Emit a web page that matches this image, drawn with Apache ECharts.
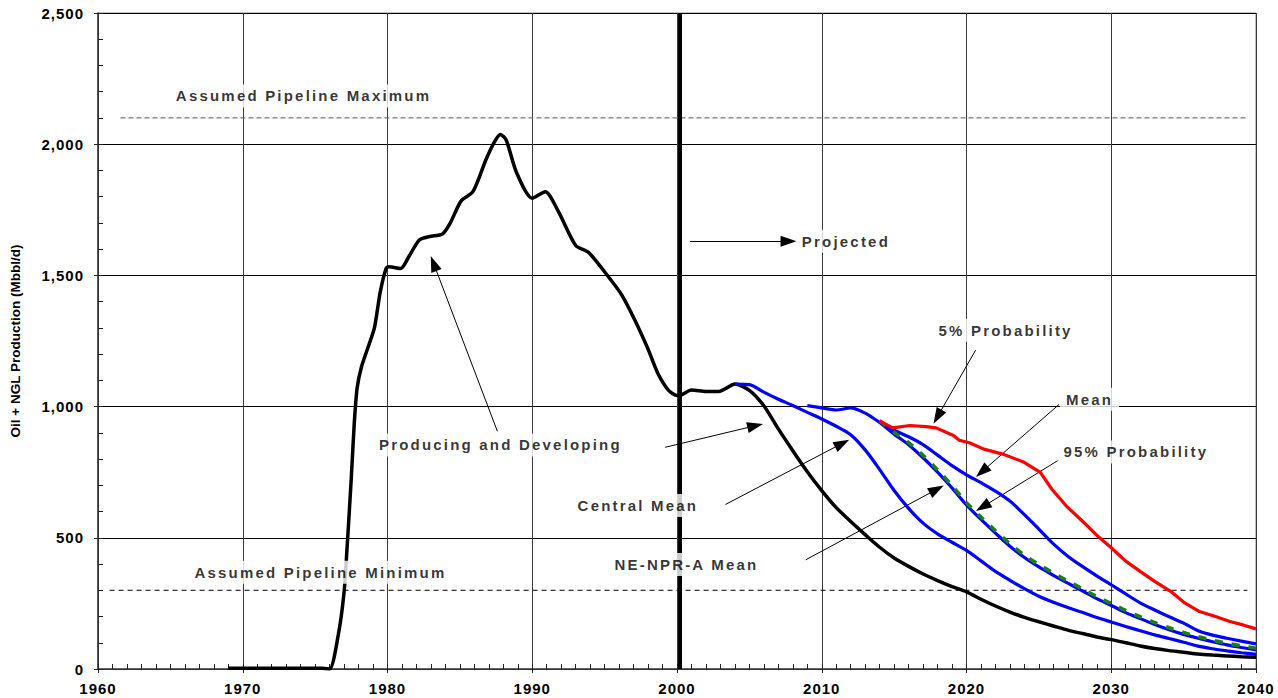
<!DOCTYPE html>
<html><head><meta charset="utf-8">
<script src="https://cdn.jsdelivr.net/npm/echarts@6/dist/echarts.min.js"></script>
<style>
html,body{margin:0;padding:0;background:#fff;}
#chart{width:1278px;height:698px;}
#chart text[style*="annot"]{letter-spacing:2.2px;}
#chart text[style*="axlab"]{letter-spacing:1px;}
</style></head><body><div id="chart"></div>
<script>
// ---------------- data ----------------
const producingYears = [1969,1975.5,1976.0,1976.6,1977.0,1977.2,1977.5,1977.7,1977.9,1978.2,1978.7,1979.1,1979.5,1979.9,1980.1,1980.9,1981.5,1982.2,1982.9,1983.8,1984.3,1985.1,1985.9,1986.8,1987.4,1987.8,1988.2,1988.9,1990.0,1990.9,1991.8,1993.0,1993.9,1995.3,1996.2,1997.1,1998.0,1998.7,1999.4,2000.0,2000.35,2001.0,2002.0,2002.9,2003.3,2004.0,2005,2006,2007,2008,2009,2010,2011,2012,2013,2014,2015,2016,2017,2018,2019,2020,2021,2022,2023,2024,2025,2026,2027,2028,2029,2030,2031,2032,2033,2034,2035,2036,2037,2038,2039,2040];
const producingValues = [3,3,0,130,293,456,729,933,1070,1151,1233,1301,1437,1526,1533,1526,1574,1635,1648,1658,1696,1785,1819,1941,2010,2037,2016,1894,1794,1819,1744,1614,1587,1492,1424,1328,1219,1124,1063,1042,1046,1063,1058,1058,1067,1086,1062,1003,915,832,752,680,615,562,512,464,423,391,362,337,314,294,266,240,217,197,180,164,148,135,122,112,100,88,78,70,64,57,53,50,47,45];

const centralMeanYears = [2004,2005,2006,2007,2008,2009,2010,2011,2012,2013,2014,2015,2016,2017,2018,2019,2020,2021,2022,2023,2024,2025,2026,2027,2028,2029,2030,2031,2032,2033,2034,2035,2036,2037,2038,2039,2040];
const centralMeanValues = [1086,1084,1055,1028,1004,978,953,925,893,835,760,680,612,556,515,483,452,412,372,338,306,277,254,234,216,196,179,162,146,130,116,102,87,77,69,62,56];

const meanYears = [2009,2010,2011,2012,2013,2014,2015,2016,2017,2018,2019,2020,2021,2022,2023,2024,2025,2026,2027,2028,2029,2030,2031,2032,2033,2034,2035,2036,2037,2038,2039,2040];
const meanValues = [1004,995,987,995,975,940,910,885,855,815,775,740,710,678,640,588,533,477,430,391,355,321,286,252,225,199,175,146,129,117,106,96];

const p95Years = [2014,2015,2016,2017,2018,2019,2020,2021,2022,2023,2024,2025,2026,2027,2028,2029,2030,2031,2032,2033,2034,2035,2036,2037,2038,2039,2040];
const p95Values = [940,895,855,805,750,690,625,570,518,468,425,389,357,327,298,268,242,215,192,170,150,132,117,104,92,82,73];

const neNprYears = [2014,2015,2016,2017,2018,2019,2020,2021,2022,2023,2024,2025,2026,2027,2028,2029,2030,2031,2032,2033,2034,2035,2036,2037,2038,2039,2040];
const neNprValues = [946,902,863,814,759,699,634,579,527,477,434,398,366,335,306,276,250,223,199,177,157,139,123,110,98,88,79];

const p5Years = [2014.0,2014.9,2016.1,2017.2,2017.9,2019.1,2019.5,2020.2,2021.2,2022.5,2023.9,2025.1,2025.9,2026.9,2028.0,2029.0,2030.0,2031.0,2032.0,2033.0,2034.1,2035.1,2036.1,2037.2,2038.2,2039.1,2040.0];
const p5Values = [945,919,928,924,919,890,872,862,838,819,790,749,685,621,564,510,462,411,372,334,296,251,219,200,181,168,153];

const pipelineMaxValue = 2100;
const pipelineMaxYears = [1961.55, 2039.4];
const pipelineMinValue = 300;
const pipelineMinYears = [1960.8, 2039.4];
const projectionStartYear = 2000.2;

const xTicks = {min:1960, max:2040, step:10};
const yTicks = {min:0, max:2500, step:500};

// annotation texts and their anchor points (data coords)
const annotationTexts = ['Assumed Pipeline Maximum','Assumed Pipeline Minimum','Producing and Developing','Projected','5% Probability','Mean','95% Probability','Central Mean','NE-NPR-A Mean'];
const annotationAt = [[1974.2,2184],[1975.37,369],[1987.8,854],[2011.67,1630],[2022.7,1291],[2028.5,1028],[2031.7,827],[1997.3,623],[2000.65,398]];
// arrows: [tail, tip] in data coords
const arrowLines = [
  [[1987.59,906],[1982.99,1574]],
  [[1999.19,845],[2005.94,934]],
  [[2003.35,627],[2011.9,874]],
  [[2008.89,416],[2018.43,699]],
  [[2020.63,1215],[2017.72,935]],
  [[2026.39,1008],[2020.65,732]],
  [[2026.39,797],[2020.65,602]],
  [[2000.9,1630],[2008.26,1630]]
];

// ---------------- chart ----------------
const zip = (xs, ys) => xs.map((x,i)=>[x, ys[i]]);
const AXFONT = "'Liberation Sans', axlab";
const ANFONT = "'Liberation Sans', annot";

const chart = echarts.init(document.getElementById('chart'), null, {renderer:'svg'});

function axisX(main){
  return {
    type:'value', min:xTicks.min, max:xTicks.max, interval:xTicks.step, position:'bottom', gridIndex:0,
    axisLine:{show:main, onZero:false, lineStyle:{color:'#444', width:1.5}},
    axisTick:{show:true, inside:main, length:main?5:4, lineStyle:{color:'#222', width:1}},
    minorTick:{show:main, splitNumber:10, length:5, lineStyle:{color:'#222', width:1}},
    splitLine:{show:main, lineStyle:{color:'#3a3a3a', width:1}},
    axisLabel:{show:main, color:'#000', fontSize:15, fontWeight:'bold', fontFamily:AXFONT, margin:12,
      formatter:v=>String(v)},
    silent:true
  };
}
function axisY(main){
  return {
    type:'value', min:yTicks.min, max:yTicks.max, interval:yTicks.step, position:'left', gridIndex:0,
    axisLine:{show:main, onZero:false, lineStyle:{color:'#333', width:1.5}},
    axisTick:{show:true, inside:main, length:main?5:4, lineStyle:{color:'#222', width:1}},
    minorTick:{show:main, splitNumber:5, length:5, lineStyle:{color:'#222', width:1}},
    splitLine:{show:main, lineStyle:{color:'#000', width:1}},
    axisLabel:{show:main, color:'#000', fontSize:15, fontWeight:'bold', fontFamily:AXFONT, margin:14,
      formatter:v=>v.toLocaleString('en-US')},
    name: main ? 'Oil + NGL Production (Mbbl/d)' : '',
    nameLocation:'middle', nameGap:76,
    nameTextStyle:{color:'#000', fontSize:13.5, fontWeight:'bold', fontFamily:"'Liberation Sans'"},
    silent:true
  };
}

const lineBase = {type:'line', showSymbol:false, symbol:'none', animation:false, silent:true, emphasis:{disabled:true}, clip:true};

const option = {
  animation:false,
  backgroundColor:'#fff',
  grid:{left:98, right:22, top:13, bottom:29, show:true, borderColor:'#888', borderWidth:1, backgroundColor:'transparent'},
  xAxis:[axisX(true), axisX(false)],
  yAxis:[axisY(true), axisY(false)],
  series:[
    Object.assign({}, lineBase, {name:'Producing and Developing', data:zip(producingYears, producingValues), smooth:0.25,
      lineStyle:{color:'#000', width:3.5}, z:4,
      markLine:{silent:true, animation:false, symbol:['none','none'], label:{show:false},
        lineStyle:{color:'#000', width:4, type:'solid'}, data:[{xAxis:projectionStartYear}]}}),
    Object.assign({}, lineBase, {name:'Central Mean', data:zip(centralMeanYears, centralMeanValues), smooth:0.3, lineStyle:{color:'#0000ff', width:3.2}, z:5}),
    Object.assign({}, lineBase, {name:'Mean', data:zip(meanYears, meanValues), smooth:0.3, lineStyle:{color:'#0000ff', width:3.2}, z:5}),
    Object.assign({}, lineBase, {name:'95% Probability', data:zip(p95Years, p95Values), smooth:0.3, lineStyle:{color:'#0000ff', width:3.2}, z:5}),
    Object.assign({}, lineBase, {name:'NE-NPR-A Mean', data:zip(neNprYears, neNprValues), smooth:0.3, lineStyle:{color:'#1a7f1a', width:3.6, type:[8,9]}, z:6}),
    Object.assign({}, lineBase, {name:'5% Probability', data:zip(p5Years, p5Values), lineStyle:{color:'#ff0000', width:3.2}, z:6}),
    Object.assign({}, lineBase, {name:'Assumed Pipeline Maximum', data:pipelineMaxYears.map(x=>[x,pipelineMaxValue]), lineStyle:{color:'#777', width:1.2, type:[5,3]}, z:3}),
    Object.assign({}, lineBase, {id:'arrows', name:'Assumed Pipeline Minimum', data:pipelineMinYears.map(x=>[x,pipelineMinValue]), lineStyle:{color:'#000', width:1, type:[5,4]}, z:3}),
    {type:'scatter', name:'labels', silent:true, animation:false, symbolSize:1, z:10,
      itemStyle:{color:'rgba(0,0,0,0)'}, emphasis:{disabled:true},
      label:{show:true, position:'inside', formatter:'{b}', color:'#000', fontSize:15, fontWeight:'bold', fontFamily:ANFONT, backgroundColor:'#fff'},
      data:annotationTexts.map((t,i)=>({name:t, value:annotationAt[i], label:{padding:[4, 6 + t.length*1.1]}}))}
  ]
};
chart.setOption(option);

// arrows: shorten to put the triangle tip at the target point
const HEAD = 16;
const arrowData = arrowLines.map(([a,b])=>{
  const p1 = chart.convertToPixel({gridIndex:0}, a);
  const p2 = chart.convertToPixel({gridIndex:0}, b);
  const dx = p2[0]-p1[0], dy = p2[1]-p1[1];
  const L = Math.hypot(dx,dy);
  const q = [p2[0]-dx/L*HEAD/2, p2[1]-dy/L*HEAD/2];
  return [{coord:a}, {coord:chart.convertFromPixel({gridIndex:0}, q)}];
});
chart.setOption({series:[{id:'arrows', markLine:{silent:true, animation:false, symbol:['none','triangle'], symbolSize:[11,HEAD],
  label:{show:false}, lineStyle:{color:'#000', width:1, type:'solid'}, itemStyle:{color:'#000'}, data:arrowData}}]});
</script></body></html>
